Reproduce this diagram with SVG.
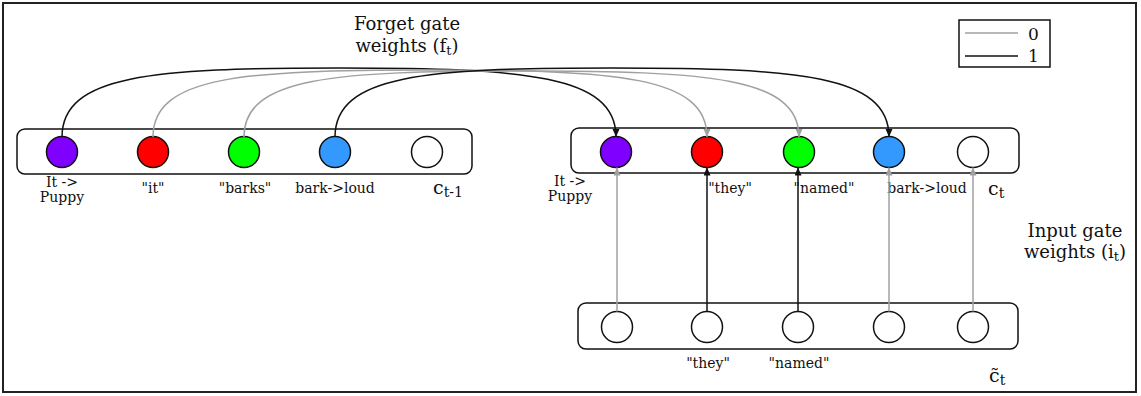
<svg xmlns="http://www.w3.org/2000/svg" width="1141" height="396" viewBox="0 0 1141 396">
<defs>
<style>
text{font-family:"DejaVu Serif","Liberation Serif",serif;fill:#111}
.t{font-size:18px;text-anchor:middle}
.l{font-size:14px;text-anchor:middle}
.c{font-size:19px}
.s{font-size:14px}
.box{fill:#fff;stroke:#111;stroke-width:1.5}
.n{stroke:#111;stroke-width:1.5}
.k{fill:none;stroke:#111;stroke-width:1.5}
.g{fill:none;stroke:#a0a0a0;stroke-width:1.5}
</style>
<marker id="ak" markerUnits="userSpaceOnUse" markerWidth="9" markerHeight="8" refX="8" refY="3.5" orient="auto"><path d="M0,0 L8,3.5 L0,7 z" fill="#111"/></marker>
<marker id="ag" markerUnits="userSpaceOnUse" markerWidth="9" markerHeight="8" refX="8" refY="3.5" orient="auto"><path d="M0,0 L8,3.5 L0,7 z" fill="#a0a0a0"/></marker>
</defs>
<rect x="3" y="3" width="1133" height="389" fill="#fff" stroke="#222" stroke-width="2"/>

<g id="legend">
<rect x="959" y="20" width="91" height="47" fill="#fff" stroke="#111" stroke-width="1.5"/>
<line x1="965" y1="33" x2="1018" y2="33" stroke="#a0a0a0" stroke-width="1.5"/>
<line x1="965" y1="56" x2="1018" y2="56" stroke="#111" stroke-width="1.5"/>
<text x="1028" y="40" font-size="17">0</text>
<text x="1028" y="62" font-size="17">1</text>
</g>

<g id="forget-label">
<text class="t" x="407" y="30">Forget gate</text>
<text class="t" x="407" y="52">weights (f<tspan font-size="13" dy="3">t</tspan><tspan dy="-3">)</tspan></text>
</g>
<g id="input-label">
<text class="t" x="1075" y="237">Input gate</text>
<text class="t" x="1075" y="258">weights (i<tspan font-size="13" dy="3">t</tspan><tspan dy="-3">)</tspan></text>
</g>

<g id="c-prev">
<rect class="box" x="17" y="129" width="455" height="45" rx="8"/>
<circle class="n" cx="62" cy="152" r="15.5" fill="#7f00ff"/>
<circle class="n" cx="153" cy="152" r="15.5" fill="#ff0000"/>
<circle class="n" cx="244" cy="152" r="15.5" fill="#00ff00"/>
<circle class="n" cx="335" cy="152" r="15.5" fill="#3399ff"/>
<circle class="n" cx="427" cy="152" r="15.5" fill="#fff"/>
<text class="l" x="62" y="187">It -&gt;</text>
<text class="l" x="62" y="202">Puppy</text>
<text class="l" x="153" y="193">"it"</text>
<text class="l" x="245" y="193">"barks"</text>
<text class="l" x="335" y="193">bark-&gt;loud</text>
<text x="433" y="194"><tspan class="c">c</tspan><tspan class="s" dy="3">t-1</tspan></text>
</g>

<g id="c-cur">
<rect class="box" x="571" y="128" width="448" height="45" rx="8"/>
<circle class="n" cx="616" cy="152" r="15.5" fill="#7f00ff"/>
<circle class="n" cx="707" cy="152" r="15.5" fill="#ff0000"/>
<circle class="n" cx="799" cy="152" r="15.5" fill="#00ff00"/>
<circle class="n" cx="889" cy="152" r="15.5" fill="#3399ff"/>
<circle class="n" cx="973" cy="152" r="15.5" fill="#fff"/>
<text class="l" x="570" y="186">It -&gt;</text>
<text class="l" x="570" y="201">Puppy</text>
<text class="l" x="730" y="193">"they"</text>
<text class="l" x="824" y="193">"named"</text>
<text class="l" x="927" y="193">bark-&gt;loud</text>
<text x="988" y="195"><tspan class="c">c</tspan><tspan class="s" dy="3">t</tspan></text>
</g>

<g id="c-cand">
<rect class="box" x="578" y="303" width="440" height="46" rx="8"/>
<circle class="n" cx="617" cy="327" r="15.5" fill="#fff"/>
<circle class="n" cx="707" cy="327" r="15.5" fill="#fff"/>
<circle class="n" cx="798" cy="327" r="15.5" fill="#fff"/>
<circle class="n" cx="889" cy="327" r="15.5" fill="#fff"/>
<circle class="n" cx="973" cy="327" r="15.5" fill="#fff"/>
<text class="l" x="708" y="368">"they"</text>
<text class="l" x="799" y="368">"named"</text>
<text x="989" y="382"><tspan class="c">c̃</tspan><tspan class="s" dy="3">t</tspan></text>
</g>

<g id="connectors">
<path class="k" d="M62,137 C62,75 152,68 339,68 S616,75 616,137" marker-end="url(#ak)"/>
<path class="g" d="M153,137 C153,76 243,70 430,70 S707,76 707,137" marker-end="url(#ag)"/>
<path class="g" d="M244,137 C244,77 334,71 521,71 S799,77 799,137" marker-end="url(#ag)"/>
<path class="k" d="M335,137 C335,75 425,68 612,68 S889,75 889,137" marker-end="url(#ak)"/>
<line class="g" x1="617" y1="311.5" x2="617" y2="167.5" marker-end="url(#ag)"/>
<line class="k" x1="707" y1="311.5" x2="707" y2="167.5" marker-end="url(#ak)"/>
<line class="k" x1="798" y1="311.5" x2="798" y2="167.5" marker-end="url(#ak)"/>
<line class="g" x1="889" y1="311.5" x2="889" y2="167.5" marker-end="url(#ag)"/>
<line class="g" x1="973" y1="311.5" x2="973" y2="167.5" marker-end="url(#ag)"/>
</g>
</svg>
